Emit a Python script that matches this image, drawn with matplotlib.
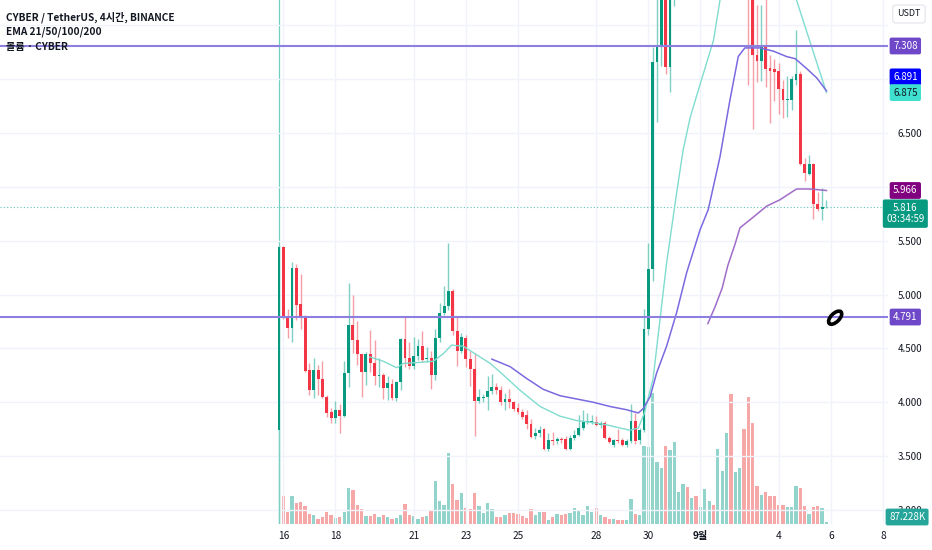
import numpy as np
import pandas as pd
import matplotlib
matplotlib.use("Agg")
import matplotlib.pyplot as plt
import matplotlib.dates as mdates
import matplotlib.transforms as mtransforms
from matplotlib.patches import Ellipse

plt.rcParams['font.family'] = ['Noto Sans CJK KR', 'DejaVu Sans']

# CYBER/USDT 4h candles (off-screen bars estimated)
opens = [3.74, 5.44, 4.79, 4.69, 5.25, 4.91, 4.79, 4.30, 4.11, 4.30,
         4.22, 4.05, 3.91, 3.85, 3.93, 3.87, 4.27, 4.72, 4.58, 4.45,
         4.28, 4.45, 4.36, 4.24, 4.25, 4.13, 4.17, 4.04, 4.19, 4.59,
         4.41, 4.34, 4.43, 4.52, 4.40, 4.41, 4.25, 4.60, 4.83, 4.89,
         5.03, 4.66, 4.48, 4.60, 4.40, 4.31, 4.01, 4.04, 4.05, 4.10,
         4.14, 4.11, 4.00, 4.03, 4.00, 3.95, 3.91, 3.88, 3.80, 3.69,
         3.71, 3.75, 3.57, 3.65, 3.64, 3.66, 3.66, 3.57, 3.67, 3.70,
         3.76, 3.82, 3.82, 3.82, 3.79, 3.81, 3.67, 3.60, 3.65, 3.65,
         3.60, 3.64, 3.83, 3.65, 3.74, 4.68, 5.24, 7.16, 7.30, 8.10,
         7.11, 8.00, 8.60, 8.90, 9.40, 9.00, 9.30, 9.00, 9.20, 9.80,
         10.10, 9.80, 11.00, 11.50, 12.50, 10.50, 11.00, 11.60, 9.50, 8.20,
         7.22, 7.17, 7.32, 7.10, 7.09, 7.08, 6.91, 6.81, 6.81, 6.99,
         7.05, 6.21, 6.12, 6.21, 5.84, 5.79, 5.81]
highs = [5.46, 5.45, 4.87, 5.30, 5.28, 5.19, 4.81, 4.36, 4.41, 4.35,
         4.38, 4.07, 3.95, 4.01, 3.98, 4.38, 5.11, 5.00, 4.75, 4.45,
         4.47, 4.67, 4.58, 4.41, 4.27, 4.24, 4.22, 4.20, 4.60, 4.79,
         4.56, 4.61, 4.59, 4.66, 4.51, 4.48, 4.68, 4.92, 5.08, 5.48,
         5.05, 4.79, 4.64, 4.62, 4.48, 4.46, 4.12, 4.08, 4.24, 4.26,
         4.18, 4.15, 4.09, 4.12, 4.01, 3.99, 3.94, 3.93, 3.84, 3.76,
         3.78, 3.76, 3.71, 3.72, 3.68, 3.68, 3.69, 3.70, 3.74, 3.88,
         3.93, 3.90, 3.88, 3.87, 3.83, 3.83, 3.69, 3.66, 3.75, 3.67,
         3.66, 3.98, 3.90, 3.76, 4.87, 5.48, 7.30, 7.90, 8.30, 8.40,
         8.30, 8.90, 9.20, 9.80, 9.50, 9.40, 9.40, 9.30, 9.90, 10.20,
         10.20, 11.20, 11.70, 12.80, 12.90, 11.20, 11.80, 11.70, 9.80, 8.40,
         7.69, 7.69, 7.75, 7.22, 7.19, 7.15, 6.99, 7.03, 7.03, 7.46,
         7.08, 6.27, 6.30, 6.22, 5.95, 5.99, 5.88]
lows = [2.60, 4.77, 4.60, 4.56, 4.76, 4.68, 4.28, 4.07, 4.04, 4.07,
        4.04, 3.86, 3.81, 3.81, 3.71, 3.86, 4.14, 4.46, 4.35, 4.05,
        4.16, 4.28, 4.16, 4.14, 4.03, 4.02, 4.02, 4.01, 4.11, 4.33,
        4.31, 4.31, 4.39, 4.37, 4.37, 4.12, 4.21, 4.56, 4.81, 4.86,
        4.62, 4.34, 4.46, 4.33, 4.15, 3.69, 3.99, 4.00, 3.93, 4.08,
        4.08, 3.97, 3.93, 3.95, 3.92, 3.89, 3.84, 3.75, 3.67, 3.66,
        3.68, 3.56, 3.55, 3.60, 3.61, 3.62, 3.56, 3.56, 3.65, 3.69,
        3.74, 3.80, 3.80, 3.78, 3.76, 3.66, 3.62, 3.58, 3.62, 3.59,
        3.58, 3.62, 3.61, 3.61, 3.72, 4.62, 5.13, 6.60, 7.12, 7.05,
        6.88, 7.68, 8.10, 8.70, 8.80, 8.90, 8.90, 8.90, 9.10, 9.60,
        9.60, 9.70, 10.80, 11.30, 10.20, 10.10, 10.80, 9.20, 6.95, 6.54,
        6.97, 6.98, 6.93, 6.59, 6.80, 6.68, 6.64, 6.65, 6.71, 6.95,
        6.20, 6.05, 6.11, 5.70, 5.78, 5.69, 5.80]
closes = [5.44, 4.79, 4.69, 5.25, 4.90, 4.79, 4.29, 4.11, 4.30, 4.22,
          4.05, 3.90, 3.85, 3.93, 3.87, 4.27, 4.72, 4.58, 4.45, 4.28,
          4.45, 4.36, 4.24, 4.25, 4.13, 4.18, 4.04, 4.19, 4.59, 4.41,
          4.34, 4.43, 4.52, 4.39, 4.41, 4.25, 4.60, 4.83, 4.89, 5.03,
          4.66, 4.48, 4.61, 4.40, 4.31, 4.01, 4.05, 4.05, 4.10, 4.14,
          4.11, 4.00, 4.03, 4.00, 3.94, 3.91, 3.86, 3.80, 3.68, 3.71,
          3.74, 3.57, 3.65, 3.64, 3.66, 3.65, 3.57, 3.67, 3.70, 3.76,
          3.82, 3.83, 3.83, 3.79, 3.81, 3.67, 3.63, 3.65, 3.64, 3.60,
          3.64, 3.83, 3.64, 3.74, 4.68, 5.24, 7.16, 7.30, 8.10, 7.11,
          8.00, 8.60, 8.90, 9.40, 9.00, 9.30, 9.00, 9.20, 9.80, 10.10,
          9.80, 11.00, 11.50, 12.50, 10.50, 11.00, 11.60, 9.50, 8.20, 7.22,
          7.17, 7.32, 7.09, 7.08, 7.07, 6.91, 6.81, 6.82, 7.00, 7.05,
          6.21, 6.13, 6.21, 5.84, 5.79, 5.81, 5.816]
volume_k = [0, 1420, 600, 1450, 1080, 1110, 920, 500, 450, 260,
            370, 600, 450, 320, 370, 600, 1830, 1730, 970, 770,
            410, 400, 500, 370, 450, 370, 240, 310, 460, 1030,
            460, 410, 260, 370, 430, 650, 2190, 1160, 970, 3640,
            2040, 1230, 1610, 840, 780, 1570, 920, 560, 1060, 770,
            340, 340, 460, 550, 560, 510, 400, 320, 770, 480,
            630, 630, 220, 360, 530, 460, 530, 560, 840, 650,
            460, 910, 600, 840, 460, 340, 260, 260, 220, 190,
            190, 1280, 510, 460, 4020, 3950, 6720, 3170, 2890, 3990,
            3810, 4220, 1630, 2040, 1880, 1320, 1450, 870, 1800, 1200,
            970, 3830, 2720, 4670, 6670, 2650, 2890, 4870, 6500, 5170,
            1930, 1490, 1630, 1420, 1450, 970, 970, 890, 860, 1960,
            1850, 910, 510, 870, 910, 810, 87.228]

# EMA lines: (bar index, price)
ema21_bar = [20.9, 24.0, 27.1, 28.6, 32.5, 35.5, 37.8, 39.7, 42.4, 45.5, 48.6,
             50.9, 55.5, 60.1, 64.7, 68.5, 72.3, 75.4, 78.5, 80.8, 82.7, 84.1,
             86.1, 89.2, 91.5, 93.0, 94.6, 96.9, 100.0, 101.5, 104.0, 108.0,
             113.0, 116.5, 119.1, 126.0]
ema21_val = [4.42, 4.38, 4.32, 4.36, 4.37, 4.38, 4.45, 4.53, 4.52, 4.44, 4.36,
             4.28, 4.11, 3.96, 3.87, 3.83, 3.81, 3.79, 3.76, 3.74, 3.76, 3.90,
             4.22, 5.29, 5.94, 6.34, 6.64, 6.95, 7.36, 7.735, 8.20, 8.60,
             8.45, 8.10, 7.735, 6.875]
ema50_bar = [49.0, 53.2, 57.0, 60.8, 64.7, 68.5, 72.3, 76.2, 80.0, 82.7, 83.8,
             85.4, 86.9, 89.2, 91.5, 93.8, 96.9, 98.8, 101.5, 103.8, 105.7,
             107.2, 110.7, 113.8, 116.8, 118.8, 121.4, 123.8, 126.0]
ema50_val = [4.40, 4.33, 4.22, 4.12, 4.06, 4.03, 4.00, 3.96, 3.93, 3.90, 3.94,
             4.05, 4.27, 4.52, 4.83, 5.20, 5.60, 5.79, 6.28, 6.81, 7.21,
             7.29, 7.29, 7.26, 7.21, 7.19, 7.10, 7.01, 6.891]
ema100_bar = [98.7, 100.3, 102.0, 103.3, 104.9, 106.1, 109.2, 112.2, 115.3,
              119.1, 122.2, 126.0]
ema100_val = [4.73, 4.88, 5.06, 5.27, 5.46, 5.62, 5.72, 5.82, 5.88, 5.98,
              5.98, 5.966]

price_ticks = [3.0, 3.5, 4.0, 4.5, 5.0, 5.5, 6.0, 6.5, 7.0, 7.5]
price_tick_labels = ['3.000', '3.500', '4.000', '4.500', '5.000', '5.500', '', '6.500', '', '']
date_ticks = ['2023-08-16', '2023-08-18', '2023-08-21', '2023-08-23', '2023-08-25',
              '2023-08-28', '2023-08-30', '2023-09-01', '2023-09-04', '2023-09-06',
              '2023-09-08']
date_labels = ['16', '18', '21', '23', '25', '28', '30', '9월', '4', '6', '8']

level_hi = 7.308
level_lo = 4.791
last_price = 5.816

opens = np.array(opens); highs = np.array(highs)
lows = np.array(lows); closes = np.array(closes)
times = pd.date_range('2023-08-15 20:00', periods=len(opens), freq='4h')
x = mdates.date2num(times)
bar = 4 / 24
up = closes >= opens

fig = plt.figure(figsize=(9.32, 5.5), dpi=100)
ax = fig.add_axes([0, 26 / 550, 888 / 932, 524 / 550])
axv = ax.twinx()
ax.set_zorder(2)
ax.patch.set_visible(False)
axv.set_zorder(1)

ax.set_xlim(x[0] - 279 / 4.345 * bar, x[0] + (888 - 279) / 4.345 * bar)
ax.set_ylim(2.869, 7.735)
axv.set_ylim(0, 26880)

# volume
vcol = np.where(up, '#92d3cb', '#f6a8a8')
axv.bar(x, volume_k, width=bar * 0.76, color=vcol, linewidth=0)
axv.set_yticks([])
for s in axv.spines.values():
    s.set_visible(False)

# grid + axes styling
ax.set_yticks(price_ticks)
ax.set_yticklabels(price_tick_labels)
ax.yaxis.tick_right()
ax.tick_params(axis='y', length=0, pad=7, labelsize=7, colors='#131722')
ax.set_xticks(mdates.date2num(pd.to_datetime(date_ticks)))
ax.set_xticklabels(date_labels)
ax.tick_params(axis='x', length=0, pad=5, labelsize=7.3, colors='#131722')
ax.get_xticklabels()[7].set_fontweight('bold')
ax.grid(True, color='#f0f3fa', lw=1, zorder=0)
for s in ax.spines.values():
    s.set_visible(False)

# listing vertical line
ax.axvline(x[0], color='#6fd0c0', lw=0.9, zorder=1)

# candles
wick_col = np.where(up, '#7fcfc2', '#f59ea6')
body_col = np.where(up, '#089981', '#f23645')
ax.vlines(x, lows, highs, colors=wick_col, lw=1, zorder=3)
body_lo = np.minimum(opens, closes)
body_h = np.maximum(np.abs(closes - opens), 0.007)
ax.bar(x, body_h, bottom=body_lo, width=bar * 0.66, color=body_col, linewidth=0, zorder=4)

# EMAs
ax.plot(x[0] + np.array(ema21_bar) * bar, ema21_val, color='#7fdccf', lw=1.0, zorder=5)
ax.plot(x[0] + np.array(ema50_bar) * bar, ema50_val, color='#7a6ae0', lw=1.1, zorder=5)
ax.plot(x[0] + np.array(ema100_bar) * bar, ema100_val, color='#a06cc8', lw=1.1, zorder=5)

# horizontal levels
ax.axhline(level_hi, color='#8c7fe0', lw=1.5, zorder=6)
ax.axhline(level_lo, color='#8c7fe0', lw=1.5, zorder=6)
ax.axhline(last_price, color='#5cc5b5', lw=0.8, ls=(0, (1, 2)), zorder=2)

# hand-drawn "0" mark
mark_tr = fig.dpi_scale_trans + mtransforms.ScaledTranslation(
    x[0] + 128.0 * bar, 4.785, ax.transData)
ax.add_patch(Ellipse((0, 0), 0.085, 0.165, angle=-45, transform=mark_tr,
                     fill=False, ec='black', lw=2.6, zorder=9, clip_on=False))

# price tags on the right scale
blend = mtransforms.blended_transform_factory(ax.transAxes, ax.transData)


def price_tag(y, text, fc, tc='white', dy=0):
    ax.annotate(text, xy=(1.0195, y), xycoords=blend, xytext=(0, dy),
                textcoords='offset pixels', ha='center', va='center',
                fontsize=7, color=tc, annotation_clip=False, zorder=10,
                bbox=dict(boxstyle='round,pad=0.35,rounding_size=0.2', fc=fc, ec='none'))


price_tag(level_hi, '7.308', '#6e48c9')
price_tag(6.891, '6.891', '#0000ff', dy=14)
price_tag(6.875, '6.875', '#40e0d0', tc='#131722')
price_tag(5.966, '5.966', '#800080')
price_tag(last_price, '5.816\n03:34:59', '#089981', dy=-7)
price_tag(level_lo, '4.791', '#6e48c9')

ax.text(1.0215, 7 / 524, '87.228K', transform=ax.transAxes, ha='center', va='center',
        fontsize=7, color='white', zorder=10,
        bbox=dict(boxstyle='round,pad=0.35,rounding_size=0.2', fc='#26a69a', ec='none'))
ax.text(1.0236, 1 - 14 / 524, 'USDT', transform=ax.transAxes, ha='center', va='center',
        fontsize=6.5, color='#131722', zorder=10,
        bbox=dict(boxstyle='round,pad=0.5,rounding_size=0.3', fc='white', ec='#e0e3eb', lw=0.8))

# legend header
for row, txt in enumerate(['CYBER / TetherUS, 4시간, BINANCE', 'EMA 21/50/100/200', '볼륨 · CYBER']):
    ax.text(6 / 888, 1 - (17 + 15 * row) / 524, txt, transform=ax.transAxes,
            fontsize=7.3, color='#131722', va='center', ha='left',
            fontweight='bold', zorder=10)

fig.savefig('out.png', dpi=100)
